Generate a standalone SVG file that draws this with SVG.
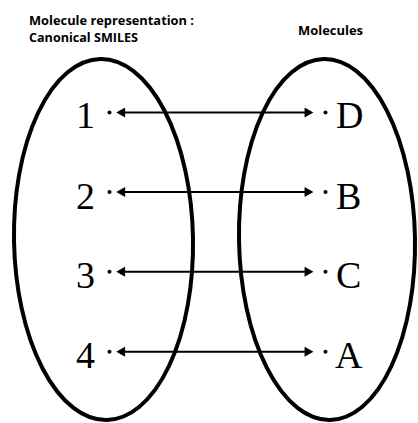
<svg xmlns="http://www.w3.org/2000/svg" width="418" height="423" viewBox="0 0 418 423">
<style>
.title{font-family:"Open Sans","Liberation Sans",Arial,sans-serif;font-weight:bold;font-size:12px;fill:#000}
.lbl{font-family:"Liberation Serif","Times New Roman",serif;font-size:38px;fill:#000}
.set{fill:none;stroke:#000;stroke-width:4}
.dot{fill:#000}
.conn{stroke:#000;stroke-width:2;fill:none;marker-start:url(#ah);marker-end:url(#ah)}
</style>
<defs>
<marker id="ah" markerUnits="userSpaceOnUse" markerWidth="10" markerHeight="10" refX="4" refY="4.5" orient="auto-start-reverse" viewBox="0 0 8 9">
<path d="M0,0 L8,4.5 L0,9 z" fill="#000"/>
</marker>
</defs>
<rect width="418" height="423" fill="#fff"/>
<g id="titles">
<text class="title" x="29" y="25" textLength="165" lengthAdjust="spacingAndGlyphs">Molecule representation :</text>
<text class="title" x="29" y="42" textLength="109" lengthAdjust="spacingAndGlyphs">Canonical SMILES</text>
<text class="title" x="298" y="35" textLength="65" lengthAdjust="spacingAndGlyphs">Molecules</text>
</g>
<g id="set-smiles">
<ellipse class="set" cx="103.5" cy="239.5" rx="89.5" ry="180.5" transform="rotate(-1 103.5 239.5)"/>
</g>
<g id="set-molecules">
<ellipse class="set" cx="327" cy="239.5" rx="88" ry="180.5" transform="rotate(-1 327 239.5)"/>
</g>
<g id="node-1"><text class="lbl" x="85.5" y="128" text-anchor="middle">1</text><circle class="dot" cx="109.5" cy="112.5" r="2"/></g>
<g id="node-2"><text class="lbl" x="85.5" y="208.5" text-anchor="middle">2</text><circle class="dot" cx="109.5" cy="192" r="2"/></g>
<g id="node-3"><text class="lbl" x="85.5" y="288" text-anchor="middle">3</text><circle class="dot" cx="109.5" cy="271.7" r="2"/></g>
<g id="node-4"><text class="lbl" x="85.5" y="367.5" text-anchor="middle">4</text><circle class="dot" cx="109.5" cy="351.7" r="2"/></g>
<g id="node-D"><circle class="dot" cx="325.5" cy="112.5" r="2"/><text class="lbl" x="336" y="128">D</text></g>
<g id="node-B"><circle class="dot" cx="325.5" cy="192" r="2"/><text class="lbl" x="336" y="208.5">B</text></g>
<g id="node-C"><circle class="dot" cx="325.5" cy="271.7" r="2"/><text class="lbl" x="336" y="288">C</text></g>
<g id="node-A"><circle class="dot" cx="325.5" cy="351.7" r="2"/><text class="lbl" x="335" y="367.5">A</text></g>
<g id="connectors">
<line class="conn" x1="120.7" y1="112.5" x2="309" y2="112.5"/>
<line class="conn" x1="120.7" y1="192" x2="309" y2="192"/>
<line class="conn" x1="120.7" y1="271.7" x2="309" y2="271.7"/>
<line class="conn" x1="120.7" y1="351.7" x2="309" y2="351.7"/>
</g>
</svg>
